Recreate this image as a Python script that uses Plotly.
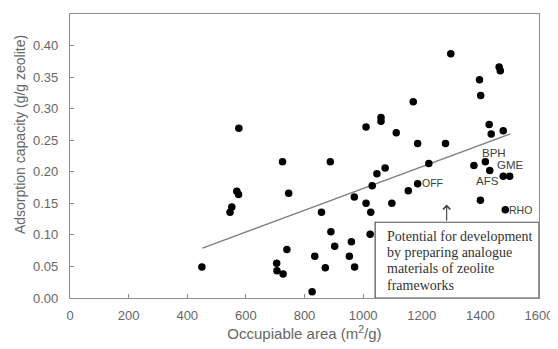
import plotly.graph_objects as go

# Occupiable area (m2/g) and adsorption capacity (g/g zeolite)
area = [450, 546, 552, 569, 575, 576, 705, 706, 727, 725, 746, 740, 826, 835, 858,
        871, 888, 890, 903, 953, 960, 971, 970, 1010, 1026, 1024, 1031, 1010, 1047,
        1061, 1061, 1075, 1098, 1113, 1154, 1171, 1186, 1186, 1224, 1281, 1299, 1378,
        1397, 1401, 1400, 1417, 1432, 1430, 1437, 1464, 1468, 1478, 1478, 1500, 1485]
capacity = [0.049, 0.136, 0.144, 0.169, 0.164, 0.269, 0.055, 0.043, 0.038, 0.216, 0.166,
            0.077, 0.010, 0.066, 0.136, 0.048, 0.216, 0.105, 0.082, 0.066, 0.089, 0.049,
            0.160, 0.150, 0.136, 0.101, 0.178, 0.271, 0.197, 0.286, 0.280, 0.206, 0.150,
            0.262, 0.170, 0.311, 0.181, 0.245, 0.213, 0.245, 0.387, 0.210, 0.346, 0.321,
            0.155, 0.216, 0.202, 0.275, 0.260, 0.366, 0.360, 0.265, 0.193, 0.193, 0.140]

# Trend line end points
trend_x = [452, 1502]
trend_y = [0.079, 0.260]

# Framework labels
label_text = ["BPH", "GME", "AFS", "OFF", "RHO"]
label_x = [1447, 1502, 1423, 1195, 1492]
label_y = [0.229, 0.211, 0.185, 0.182, 0.140]
label_anchor = ["center", "center", "center", "left", "left"]
label_size = [11.5, 11.5, 11.5, 10.5, 10.5]

note_lines = ["Potential for development", "by preparing analogue",
              "materials of zeolite", "frameworks"]

fig = go.Figure()
fig.add_trace(go.Scatter(x=trend_x, y=trend_y, mode="lines",
                         line=dict(color="#808080", width=1.5),
                         hoverinfo="skip", showlegend=False))
fig.add_trace(go.Scatter(x=area, y=capacity, mode="markers",
                         marker=dict(color="black", size=7.5),
                         showlegend=False))

for t, x, y, a, s in zip(label_text, label_x, label_y, label_anchor, label_size):
    fig.add_annotation(x=x, y=y, text=t, showarrow=False, xanchor=a,
                       yanchor="middle",
                       font=dict(family="Liberation Sans", size=s, color="#404040"))

# annotation box
fig.add_shape(type="rect", x0=1041, x1=1600, y0=0, y1=0.12, xref="x", yref="y",
              line=dict(color="#505050", width=1.2), fillcolor="white", layer="above")
line_y0 = 0.098      # centre of first line (data units)
line_step = 0.0258   # spacing between lines (data units)
for i, ln in enumerate(note_lines):
    fig.add_annotation(x=1075, y=line_y0 - i * line_step, xref="x", yref="y", text=ln,
                       showarrow=False, xanchor="left", yanchor="middle",
                       font=dict(family="Liberation Serif", size=14, color="#333333"))
fig.add_annotation(x=1285, y=0.148, ax=1285, ay=0.12, xref="x", yref="y",
                   axref="x", ayref="y", text="", showarrow=True,
                   arrowhead=4, arrowsize=1.3, arrowwidth=1.1, arrowcolor="#404040")

axis_common = dict(showline=True, linecolor="#8c8c8c", linewidth=1.2, mirror=True,
                   ticks="inside", ticklen=4, tickcolor="#8c8c8c", showgrid=False,
                   zeroline=False,
                   tickfont=dict(family="Liberation Sans", size=13, color="#666666"))

fig.update_xaxes(range=[0, 1600], dtick=200, tick0=0, ticklabelstandoff=5,
                 title=dict(text="Occupiable area (m<sup>2</sup>/g)", standoff=4,
                            font=dict(family="Liberation Sans", size=15, color="#666666")),
                 **axis_common)
fig.update_yaxes(range=[0, 0.45], dtick=0.05, tick0=0, tickformat=".2f",
                 ticklabelstandoff=8, **axis_common)

# y-axis title (placed higher than centre, as in the reference)
fig.add_annotation(x=-0.108, y=0.575, xref="paper", yref="paper",
                   text="Adsorption capacity (g/g zeolite)", textangle=-90,
                   showarrow=False, xanchor="center", yanchor="middle",
                   font=dict(family="Liberation Sans", size=14, color="#666666"))

# page body has an 8px margin, so the figure is sized to fit the 558x349 window
fig.update_layout(width=550, height=341, margin=dict(l=62, r=15, t=5, b=51),
                  plot_bgcolor="white", paper_bgcolor="white")

fig.write_html("out.html")
